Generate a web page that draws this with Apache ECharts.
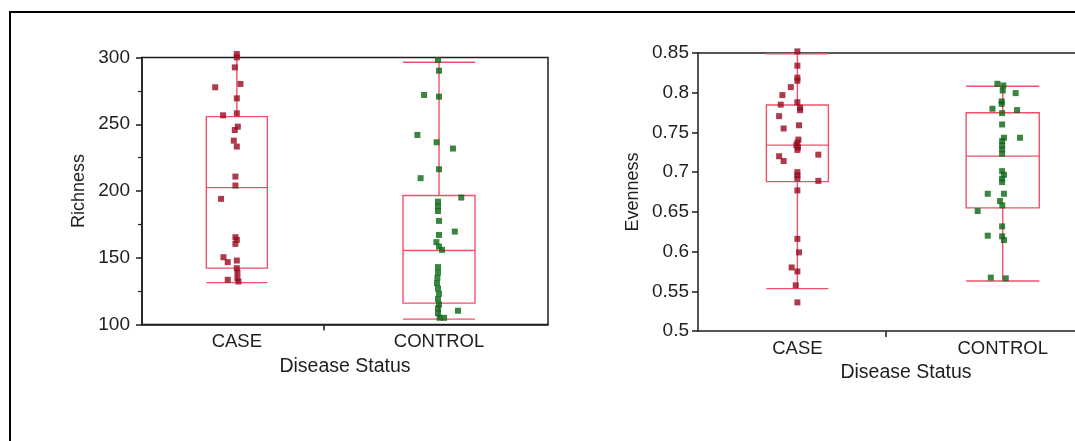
<!DOCTYPE html>
<html><head><meta charset="utf-8">
<script src="https://cdn.jsdelivr.net/npm/echarts@6/dist/echarts.min.js"></script>
<style>html,body{margin:0;padding:0;background:#fff}#c{width:1075px;height:441px}</style>
</head><body><div id="c"></div>
<script>
// ---------- data ----------
const categories = ['CASE', 'CONTROL'];
const xAxisTitle = 'Disease Status';
const richnessTicks = [100, 150, 200, 250, 300];
const evennessTicks = [0.5, 0.55, 0.6, 0.65, 0.7, 0.75, 0.8, 0.85];

// box stats: [min, q1, median, q3, max]
const richnessBox = [[131.4, 142.2, 202.5, 255.7, 302.0], [104.0, 116.0, 155.4, 196.6, 296.4]];
const evennessBox = [[0.5534, 0.688, 0.734, 0.7846, 0.849], [0.563, 0.655, 0.7202, 0.7748, 0.8081]];

// raw points (value) and horizontal jitter (category units)
const richnessCase = [302.6, 300.1, 292.6, 277.7, 280.2, 269.4, 256.7, 258.2, 248.2, 245.7, 237.7, 233.3, 210.8, 204.1, 194.1, 165.4, 163.4, 160.4, 150.4, 146.7, 147.9, 142.2, 138.9, 133.5, 134.7, 132.2];
const richnessCaseJitter = [0, 0, -0.01, -0.107, 0.018, 0, -0.068, 0, 0.005, -0.01, -0.015, 0, -0.007, -0.007, -0.078, -0.007, 0, -0.007, -0.066, -0.045, 0, 0, 0.003, -0.045, 0.003, 0.008];
const richnessControl = [298.1, 290.1, 271.9, 270.7, 242.0, 236.5, 231.8, 216.3, 209.6, 195.1, 192.0, 188.5, 185.0, 177.6, 169.6, 167.1, 161.7, 158.4, 155.9, 143.0, 139.0, 135.0, 131.0, 127.0, 123.0, 119.0, 115.0, 112.0, 110.3, 108.5, 105.0, 105.0];
const richnessControlJitter = [-0.005, 0, -0.074, 0, -0.107, -0.012, 0.069, 0, -0.091, 0.11, -0.005, -0.005, -0.005, 0, 0.078, 0, -0.013, 0, 0.015, -0.005, -0.005, -0.008, -0.01, -0.005, 0, -0.005, 0, -0.005, 0.094, -0.005, 0.003, 0.025];
const evennessCase = [0.852, 0.834, 0.819, 0.815, 0.807, 0.797, 0.785, 0.788, 0.781, 0.778, 0.7705, 0.755, 0.759, 0.741, 0.737, 0.734, 0.731, 0.728, 0.720, 0.714, 0.722, 0.700, 0.696, 0.692, 0.689, 0.677, 0.616, 0.599, 0.580, 0.575, 0.5575, 0.536];
const evennessCaseJitter = [0, 0, 0, 0, -0.032, -0.073, -0.081, 0, 0.013, 0.013, -0.089, -0.067, 0.008, 0.005, 0, -0.005, 0.003, 0, -0.089, -0.067, 0.102, 0, 0, 0, 0.102, 0, 0, 0.008, -0.028, 0, -0.008, 0];
const evennessControl = [0.8112, 0.8091, 0.8028, 0.7995, 0.789, 0.786, 0.7798, 0.7781, 0.7743, 0.760, 0.7433, 0.7433, 0.7391, 0.7336, 0.7286, 0.7231, 0.7013, 0.6967, 0.6917, 0.6875, 0.6728, 0.6728, 0.6636, 0.6581, 0.651, 0.6317, 0.620, 0.6192, 0.6145, 0.5672, 0.5663];
const evennessControlJitter = [-0.026, 0.003, 0, 0.063, -0.005, -0.005, -0.05, 0.07, -0.003, -0.003, 0.006, 0.084, -0.003, -0.003, -0.003, -0.003, -0.003, 0.006, -0.003, -0.003, -0.073, 0.006, -0.013, -0.002, -0.122, -0.003, -0.073, -0.003, 0.006, -0.058, 0.015];

// ---------- styles ----------
const BOX_COLOR = '#F0506A';
const CASE_COLOR = '#990A1E';
const CONTROL_COLOR = '#0A6614';
const TEXT = '#1e1e1e';
const AXIS = '#1e1e1e';
const FONT = "'Liberation Sans', Arial, sans-serif";
const BOX_WIDTHS = [0.302, 0.356];

function pts(vals, jit, idx) { return vals.map((v, i) => [idx + 1 + jit[i], v]); }
function boxRows(stats) { return stats.map((s, i) => [i + 1].concat(s)); }

function renderBox(params, api) {
  const x = api.value(0), mn = api.value(1), q1 = api.value(2), md = api.value(3), q3 = api.value(4), mx = api.value(5);
  const hw = BOX_WIDTHS[params.dataIndex] / 2;
  const p = (a, b) => api.coord([a, b]);
  const st = { stroke: BOX_COLOR, lineWidth: 1.4, fill: 'none' };
  const line = (a, b) => ({ type: 'line', shape: { x1: a[0], y1: a[1], x2: b[0], y2: b[1] }, style: st });
  const tl = p(x - hw, q3), br = p(x + hw, q1);
  return { type: 'group', children: [
    { type: 'rect', shape: { x: tl[0], y: tl[1], width: br[0] - tl[0], height: br[1] - tl[1] }, style: st },
    line(p(x - hw, md), p(x + hw, md)),
    line(p(x, q3), p(x, mx)),
    line(p(x, q1), p(x, mn)),
    line(p(x - hw, mx), p(x + hw, mx)),
    line(p(x - hw, mn), p(x + hw, mn))
  ]};
}

function xAxisCfg(gi, min, max, tickAt, namePad) {
  return {
    type: 'value', gridIndex: gi, min: min, max: max,
    name: xAxisTitle, nameLocation: 'middle', nameGap: 32,
    nameTextStyle: { color: TEXT, fontSize: 19.5, fontFamily: FONT, padding: [0, 0, 0, namePad] },
    splitLine: { show: false },
    axisLine: { show: true, onZero: false, lineStyle: { color: AXIS, width: 1.5 } },
    axisTick: { show: true, customValues: [tickAt], length: 6, lineStyle: { color: AXIS, width: 1.5 } },
    axisLabel: { customValues: [1, 2], formatter: v => categories[Math.round(v) - 1], color: TEXT, fontSize: 18.5, fontFamily: FONT, margin: 8 }
  };
}

const option = {
  animation: false,
  backgroundColor: '#fff',
  graphic: [{ type: 'rect', shape: { x: 10, y: 12, width: 1200, height: 600 }, style: { stroke: '#000', fill: 'none', lineWidth: 2 }, z: 100 }],
  grid: [
    { left: 142, top: 57.5, width: 406, height: 267, show: true, borderColor: AXIS, borderWidth: 1.5, backgroundColor: 'transparent' },
    { left: 698, top: 53, width: 377, height: 278, show: false }
  ],
  xAxis: [
    xAxisCfg(0, 0.531, 2.539, 1.43, 0),
    xAxisCfg(1, 0.516, 2.352, 1.43, 39),
    { type: 'value', gridIndex: 1, position: 'top', min: 0.516, max: 2.352, splitLine: { show: false },
      axisLine: { show: true, onZero: false, lineStyle: { color: AXIS, width: 1.5 } }, axisTick: { show: false }, axisLabel: { show: false } }
  ],
  yAxis: [
    {
      type: 'value', gridIndex: 0, min: richnessTicks[0], max: richnessTicks[richnessTicks.length - 1], interval: richnessTicks[1] - richnessTicks[0],
      name: 'Richness', nameLocation: 'middle', nameGap: 54, nameRotate: 90,
      nameTextStyle: { color: TEXT, fontSize: 18, fontFamily: FONT },
      splitLine: { show: false },
      axisLine: { show: true, lineStyle: { color: AXIS, width: 1.5 } },
      axisTick: { show: true, length: 6, lineStyle: { color: AXIS, width: 1.5 } },
      minorTick: { show: true, splitNumber: 2, length: 4, lineStyle: { color: AXIS, width: 1.2 } },
      axisLabel: { color: TEXT, fontSize: 19, fontFamily: FONT, margin: 12 }
    },
    {
      type: 'value', gridIndex: 1, min: evennessTicks[0], max: evennessTicks[evennessTicks.length - 1], interval: 0.05,
      name: 'Evenness', nameLocation: 'middle', nameGap: 56, nameRotate: 90,
      nameTextStyle: { color: TEXT, fontSize: 18, fontFamily: FONT },
      splitLine: { show: false },
      axisLine: { show: true, onZero: false, lineStyle: { color: AXIS, width: 1.5 } },
      axisTick: { show: true, length: 6, lineStyle: { color: AXIS, width: 1.5 } },
      axisLabel: { color: TEXT, fontSize: 19, fontFamily: FONT, margin: 9, formatter: v => String(+v.toFixed(2)) }
    }
  ],
  series: [
    { type: 'custom', xAxisIndex: 0, yAxisIndex: 0, clip: true, renderItem: renderBox, data: boxRows(richnessBox), z: 2 },
    { type: 'custom', xAxisIndex: 1, yAxisIndex: 1, clip: true, renderItem: renderBox, data: boxRows(evennessBox), z: 2 },
    { type: 'scatter', xAxisIndex: 0, yAxisIndex: 0, symbol: 'rect', symbolSize: 6, clip: false, itemStyle: { color: CASE_COLOR }, data: pts(richnessCase, richnessCaseJitter, 0), z: 3 },
    { type: 'scatter', xAxisIndex: 0, yAxisIndex: 0, symbol: 'rect', symbolSize: 6, clip: false, itemStyle: { color: CONTROL_COLOR }, data: pts(richnessControl, richnessControlJitter, 1), z: 3 },
    { type: 'scatter', xAxisIndex: 1, yAxisIndex: 1, symbol: 'rect', symbolSize: 6, clip: false, itemStyle: { color: CASE_COLOR }, data: pts(evennessCase, evennessCaseJitter, 0), z: 3 },
    { type: 'scatter', xAxisIndex: 1, yAxisIndex: 1, symbol: 'rect', symbolSize: 6, clip: false, itemStyle: { color: CONTROL_COLOR }, data: pts(evennessControl, evennessControlJitter, 1), z: 3 }
  ]
};
const chart = echarts.init(document.getElementById('c'), null, { renderer: 'canvas' });
chart.setOption(option);
</script>
</body></html>
